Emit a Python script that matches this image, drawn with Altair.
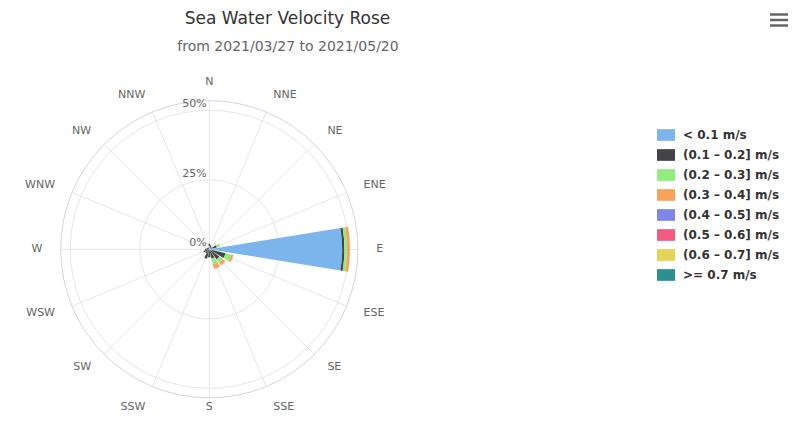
import math
import altair as alt
import pandas as pd

# ---------------- data ----------------
title_text = "Sea Water Velocity Rose"
subtitle_text = "from 2021/03/27 to 2021/05/20"
directions = ["N", "NNE", "NE", "ENE", "E", "ESE", "SE", "SSE",
              "S", "SSW", "SW", "WSW", "W", "WNW", "NW", "NNW"]
bins = ["< 0.1 m/s", "(0.1 – 0.2] m/s", "(0.2 – 0.3] m/s", "(0.3 – 0.4] m/s",
        "(0.4 – 0.5] m/s", "(0.5 – 0.6] m/s", "(0.6 – 0.7] m/s", ">= 0.7 m/s"]
colors = ["#7cb5ec", "#434348", "#90ed7d", "#f7a35c",
          "#8085e9", "#f15c80", "#e4d354", "#2b908f"]

# frequency (%) per direction, one list per speed bin
v_b0 = [1.2, 0.6, 0.4, 0.8, 47.8, 1.0, 0.5, 0.3, 0.3, 0.3, 0.3, 0.3, 0.3, 0.2, 0.2, 0.3]
v_b1 = [0.8, 0.9, 0.6, 2.0, 0.8, 5.0, 4.0, 3.2, 2.5, 3.2, 1.5, 1.8, 1.2, 0.8, 0.5, 0.4]
v_b2 = [0.0, 0.0, 0.3, 1.2, 0.9, 2.0, 1.5, 2.0, 0.3, 0.2, 0.0, 0.0, 0.0, 0.0, 0.0, 0.0]
v_b3 = [0.0, 0.0, 0.0, 0.0, 1.1, 0.9, 1.2, 1.8, 0.0, 0.0, 0.0, 0.0, 0.0, 0.0, 0.0, 0.0]
v_b4 = [0.0, 0.0, 0.0, 0.0, 0.0, 0.0, 0.0, 0.0, 0.0, 0.0, 0.0, 0.0, 0.0, 0.0, 0.0, 0.0]
v_b5 = [0.0, 0.0, 0.0, 0.0, 0.0, 0.0, 0.0, 0.0, 0.0, 0.0, 0.0, 0.0, 0.0, 0.0, 0.0, 0.0]
v_b6 = [0.0, 0.0, 0.0, 0.0, 0.0, 0.0, 0.0, 0.0, 0.0, 0.0, 0.0, 0.0, 0.0, 0.0, 0.0, 0.0]
v_b7 = [0.0, 0.0, 0.0, 0.0, 0.0, 0.0, 0.0, 0.0, 0.0, 0.0, 0.0, 0.0, 0.0, 0.0, 0.0, 0.0]
series = [v_b0, v_b1, v_b2, v_b3, v_b4, v_b5, v_b6, v_b7]

radial_ticks = [0, 25, 50]
radial_labels = ["0%", "25%", "50%"]
axis_max = 53.45  # outer edge of the pane, in %

# ---------------- layout ----------------
W, H = 780, 345
PAD_TOP = 60
CX, CY = 201.3, 181.3          # pole position inside the plot area
K = 139.0 / 50.0               # px per percent
HALF = math.radians(9.2)       # half angular width of a column
STEP = 2 * math.pi / len(directions)

# ---------------- tables ----------------
rows = []
for i, d in enumerate(directions):
    cum = 0.0
    for j, b in enumerate(bins):
        v = series[j][i]
        if v > 0:
            rows.append({"dir": d, "bin": b, "value": v,
                         "t0": i * STEP - HALF, "t1": i * STEP + HALF,
                         "r0": cum, "r1": cum + v})
        cum += v
bars = pd.DataFrame(rows)

n = len(directions)
spokes = pd.DataFrame({
    "dir": directions,
    "x0": [0.0] * n, "y0": [0.0] * n,
    "x1": [axis_max * math.sin(i * STEP) for i in range(n)],
    "y1": [axis_max * math.cos(i * STEP) for i in range(n)],
})
LAB_R = 167.0 / K
BOTTOM_Y = -(H - CY - 6.0) / K   # keep the lowest labels inside the canvas
side, lys = [], []
for i in range(n):
    s = math.sin(i * STEP)
    c = math.cos(i * STEP)
    side.append("center" if abs(s) < 1e-6 else ("left" if s > 0 else "right"))
    ly = LAB_R * c
    if c < -0.9:
        ly = BOTTOM_Y
    lys.append(ly)
dir_labels = pd.DataFrame({
    "dir": directions,
    "lx": [LAB_R * math.sin(i * STEP) for i in range(n)],
    "ly": lys,
    "side": side,
})
rings = pd.DataFrame({"r": [25.0, 50.0, axis_max],
                      "c": ["#e6e6e6", "#e6e6e6", "#ccd6eb"]})
rlabels = pd.DataFrame({"x": [0.0] * 3, "y": radial_ticks, "t": radial_labels})

xs = alt.Scale(domain=[-CX / K, (W - CX) / K], range=[0, W], nice=False, zero=False)
ys = alt.Scale(domain=[-(H - CY) / K, CY / K], range=[H, 0], nice=False, zero=False)
rs = alt.Scale(type="linear", domain=[0, axis_max], range=[0, axis_max * K], nice=False, zero=True)

FONT = "DejaVu Sans"
GRID = "#e6e6e6"

spoke_layer = alt.Chart(spokes).mark_rule(color=GRID, strokeWidth=1).encode(
    x=alt.X("x0:Q", scale=xs, axis=None), y=alt.Y("y0:Q", scale=ys, axis=None),
    x2="x1:Q", y2="y1:Q")

ring_layer = alt.Chart(rings).mark_arc(
    theta=0, theta2=2 * math.pi, fillOpacity=0, strokeWidth=1
).encode(radius=alt.Radius("r:Q", scale=rs, stack=None),
         stroke=alt.Stroke("c:N", scale=None),
         x=alt.value(CX), y=alt.value(CY))

bar_layer = alt.Chart(bars).mark_arc().encode(
    theta=alt.Theta("t0:Q", scale=None), theta2="t1:Q",
    radius=alt.Radius("r1:Q", scale=rs, stack=None), radius2="r0:Q",
    x=alt.value(CX), y=alt.value(CY),
    color=alt.Color("bin:N", scale=alt.Scale(domain=bins, range=colors),
                    legend=alt.Legend(orient="none", legendX=649, legendY=58, title=None,
                                      symbolType="M-1,-0.65H1V0.65H-1Z", symbolSize=324,
                                      symbolStrokeWidth=0, symbolOpacity=1,
                                      labelFont=FONT, labelFontSize=12, labelFontWeight="bold",
                                      labelColor="#333333", labelOffset=8, rowPadding=5,
                                      padding=0, labelLimit=300)),
)

dir_layers = []
for al in ["center", "left", "right"]:
    dir_layers.append(
        alt.Chart(dir_labels).transform_filter(alt.datum.side == al).mark_text(
            font=FONT, fontSize=11, color="#666666", align=al, baseline="middle"
        ).encode(x=alt.X("lx:Q", scale=xs, axis=None), y=alt.Y("ly:Q", scale=ys, axis=None),
                 text="dir:N"))

r_text = alt.Chart(rlabels).mark_text(
    font=FONT, fontSize=11, color="#666666", align="right", baseline="bottom", dx=-2.5, dy=-1
).encode(x=alt.X("x:Q", scale=xs, axis=None), y=alt.Y("y:Q", scale=ys, axis=None),
         text="t:N")

title_layer = alt.Chart(pd.DataFrame({"t": [title_text]})).mark_text(
    font=FONT, fontSize=17, color="#333333", align="center", baseline="middle"
).encode(x=alt.value(279.5), y=alt.value(19 - 68), text="t:N")

subtitle_layer = alt.Chart(pd.DataFrame({"t": [subtitle_text]})).mark_text(
    font=FONT, fontSize=14, color="#666666", align="center", baseline="middle"
).encode(x=alt.value(280), y=alt.value(46.5 - 68), text="t:N")

menu = [
    alt.Chart(pd.DataFrame({"k": [k]})).mark_rule(color="#666666", strokeWidth=2.5).encode(
        x=alt.value(762), x2=alt.value(781), y=alt.value(yy))
    for k, yy in enumerate([-53.5, -48.0, -42.5])
]

chart = alt.layer(spoke_layer, ring_layer, bar_layer, *dir_layers, r_text,
                  title_layer, subtitle_layer, *menu).properties(
    width=W, height=H,
    autosize=alt.AutoSizeParams(type="none"),
    padding={"left": 0, "top": PAD_TOP, "right": 0, "bottom": 0},
).configure_view(stroke=None)

chart.save("out.html", embed_options={"renderer": "svg", "actions": False})
